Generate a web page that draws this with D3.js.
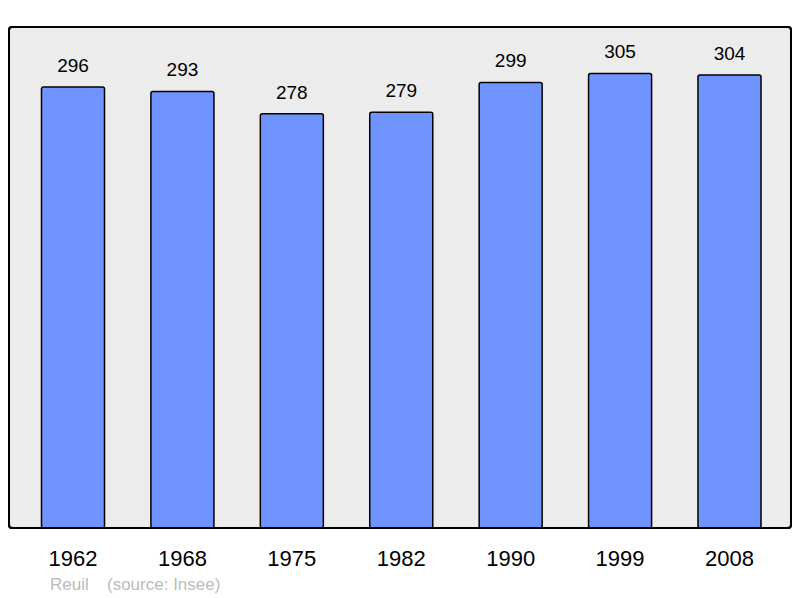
<!DOCTYPE html>
<html>
<head>
<meta charset="utf-8">
<script src="https://cdn.jsdelivr.net/npm/d3@7"></script>
<style>
  body { margin: 0; background: #fff; }
  text { font-family: "Liberation Sans", Arial, sans-serif; }
</style>
</head>
<body>
<div id="chart"></div>
<script>
// data
const years = ["1962", "1968", "1975", "1982", "1990", "1999", "2008"];
const population = [296, 293, 278, 279, 299, 305, 304];

const width = 800, height = 598;

const svg = d3.select("#chart")
  .append("svg")
    .attr("width", width)
    .attr("height", height);

// plot frame
svg.append("rect")
  .attr("x", 9).attr("y", 27)
  .attr("width", 782).attr("height", 501)
  .attr("rx", 3)
  .attr("fill", "#ececec")
  .attr("stroke", "#000")
  .attr("stroke-width", 2);

const x = d3.scaleBand()
  .domain(years)
  .range([18.3, 784.2])
  .paddingInner(0.424)
  .paddingOuter(0.212);

const y = d3.scaleLinear()
  .domain([0, 336.2])
  .range([528, 27]);

// bars
svg.selectAll(".bar")
  .data(population)
  .join("rect")
    .attr("class", "bar")
    .attr("x", (d, i) => x(years[i]))
    .attr("y", d => y(d))
    .attr("width", x.bandwidth())
    .attr("height", d => y(0) - y(d))
    .attr("rx", 2)
    .attr("fill", "#7094ff")
    .attr("stroke", "#000")
    .attr("stroke-width", 1.5);

// value labels
svg.selectAll(".val")
  .data(population)
  .join("text")
    .attr("class", "val")
    .attr("x", (d, i) => x(years[i]) + x.bandwidth() / 2)
    .attr("y", d => y(d) - 15)
    .attr("text-anchor", "middle")
    .style("font-size", "19px")
    .text(d => d);

// redraw frame border on top
svg.append("rect")
  .attr("x", 9).attr("y", 27)
  .attr("width", 782).attr("height", 501)
  .attr("rx", 3)
  .attr("fill", "none")
  .attr("stroke", "#000")
  .attr("stroke-width", 2);

// x axis labels
svg.append("g")
  .attr("transform", "translate(0,528)")
  .call(d3.axisBottom(x).tickSize(0).tickPadding(0))
  .call(g => g.select(".domain").remove())
  .selectAll("text")
    .attr("y", 38)
    .attr("dy", null)
    .attr("fill", "#000")
    .style("font-size", "22px")
    .style("font-family", "'Liberation Sans', Arial, sans-serif");

// footer
svg.append("text").attr("x", 50).attr("y", 590)
  .text("Reuil").style("font-size", "17px").attr("fill", "#bbbbbb");
svg.append("text").attr("x", 107).attr("y", 590)
  .text("(source: Insee)").style("font-size", "17px").attr("fill", "#bbbbbb");
</script>
</body>
</html>
